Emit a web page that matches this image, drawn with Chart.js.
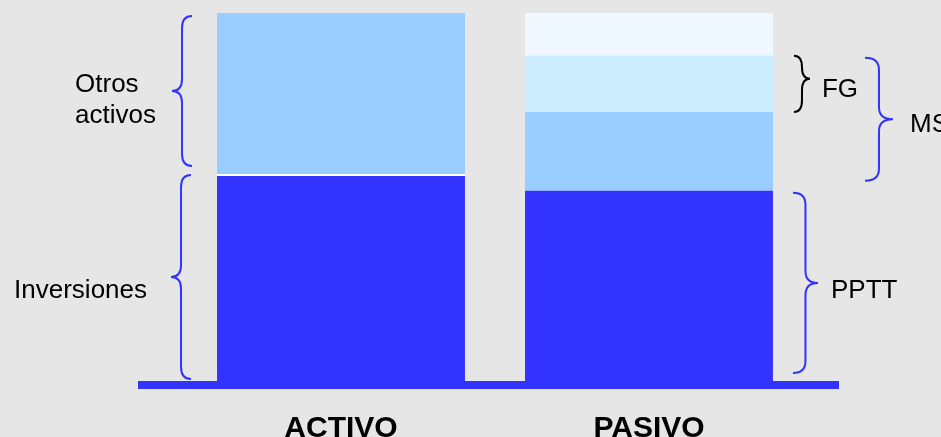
<!DOCTYPE html>
<html>
<head>
<meta charset="utf-8">
<script src="https://cdn.jsdelivr.net/npm/chart.js@4.4.1/dist/chart.umd.min.js"></script>
<style>
  html, body { margin: 0; padding: 0; background: #e6e6e6; }
</style>
</head>
<body>
<canvas id="balanceChart" width="941" height="437"></canvas>
<script>
// Datos del balance (en % del total)
const categorias = ['ACTIVO', 'PASIVO'];
const inversiones = [57.2, null];
const otrosActivos = [42.8, null];
const pptt = [null, 52.7];
const msResto = [null, 21.0];
const fg = [null, 14.9];
const pasivoSuperior = [null, 11.4];

const FUENTE = "'Liberation Sans', Arial, sans-serif";
const AZUL = '#3333ff';

// Fondo gris de la diapositiva
const fondoPlugin = {
    id: 'fondo',
    beforeDraw(chart) {
        const ctx = chart.ctx;
        ctx.save();
        ctx.fillStyle = '#e6e6e6';
        ctx.fillRect(0, 0, chart.width, chart.height);
        ctx.restore();
    }
};

// Línea base gruesa bajo las barras
const basePlugin = {
    id: 'lineaBase',
    afterDatasetsDraw(chart) {
        const ctx = chart.ctx;
        const area = chart.chartArea;
        const y0 = chart.scales.y.getPixelForValue(0);
        ctx.save();
        ctx.fillStyle = AZUL;
        ctx.fillRect(area.left - 49, y0 - 8, area.right - area.left + 85, 8);
        ctx.restore();
    }
};

function llave(ctx, xEnd, xTip, yTop, yBot, yTip, color) {
    const xs = (xEnd + xTip) / 2;
    const r = Math.min(12, (yTip - yTop) / 2, (yBot - yTip) / 2);
    ctx.beginPath();
    ctx.moveTo(xEnd, yTop);
    ctx.quadraticCurveTo(xs, yTop, xs, yTop + r);
    ctx.lineTo(xs, yTip - r);
    ctx.quadraticCurveTo(xs, yTip, xTip, yTip);
    ctx.quadraticCurveTo(xs, yTip, xs, yTip + r);
    ctx.lineTo(xs, yBot - r);
    ctx.quadraticCurveTo(xs, yBot, xEnd, yBot);
    ctx.strokeStyle = color;
    ctx.lineWidth = 2;
    ctx.stroke();
}

// Llaves y rótulos de cada bloque
const llavesPlugin = {
    id: 'llaves',
    afterDraw(chart) {
        const ctx = chart.ctx;
        const ys = chart.scales.y;
        const px = v => ys.getPixelForValue(v);
        const a = chart.getDatasetMeta(0).data[0];
        const p = chart.getDatasetMeta(2).data[1];
        const aL = a.x - a.width / 2;
        const pR = p.x + p.width / 2;

        const cA1 = inversiones[0];
        const cA2 = cA1 + otrosActivos[0];
        const cP1 = pptt[1];
        const cP2 = cP1 + msResto[1];
        const cP3 = cP2 + fg[1];

        const llaves = [
            { xEnd: aL - 25, xTip: aL - 45, yTop: px(cA2) + 3, yBot: px(cA1) - 8, f: 0.5, color: AZUL,
              textos: ['Otros', 'activos'], align: 'left', dx: -97, dy: [1, 32] },
            { xEnd: aL - 26, xTip: aL - 46, yTop: px(cA1) + 1, yBot: px(0) - 10, f: 0.5, color: AZUL,
              textos: ['Inversiones'], align: 'right', dx: -24, dy: [21] },
            { xEnd: pR + 21, xTip: pR + 37, yTop: px(cP3), yBot: px(cP2), f: 0.41, color: '#000',
              textos: ['FG'], align: 'left', dx: 12, dy: [18] },
            { xEnd: pR + 92, xTip: pR + 120, yTop: px(cP3) + 2, yBot: px(cP1) - 10, f: 0.5, color: AZUL,
              textos: ['MS'], align: 'left', dx: 17, dy: [13] },
            { xEnd: pR + 20, xTip: pR + 45, yTop: px(cP1) + 2, yBot: px(0) - 16, f: 0.5, color: AZUL,
              textos: ['PPTT'], align: 'left', dx: 13, dy: [15] }
        ];

        ctx.save();
        ctx.font = '26px ' + FUENTE;
        ctx.fillStyle = '#000';
        ctx.textBaseline = 'alphabetic';
        llaves.forEach(l => {
            const yTip = l.yTop + (l.yBot - l.yTop) * l.f;
            llave(ctx, l.xEnd, l.xTip, l.yTop, l.yBot, yTip, l.color);
            ctx.textAlign = l.align;
            l.textos.forEach((t, i) => ctx.fillText(t, l.xTip + l.dx, yTip + l.dy[i]));
        });
        ctx.restore();
    }
};

const balanceData = {
    labels: categorias,
    datasets: [
        { label: 'Inversiones', data: inversiones, backgroundColor: AZUL,
          borderColor: '#ffffff', borderWidth: { top: 2, left: 0, right: 0, bottom: 0 }, borderSkipped: false },
        { label: 'Otros activos', data: otrosActivos, backgroundColor: '#99ccff' },
        { label: 'PPTT', data: pptt, backgroundColor: AZUL },
        { label: 'MS', data: msResto, backgroundColor: '#99ccff' },
        { label: 'FG', data: fg, backgroundColor: '#cceeff' },
        { label: 'Otros pasivos', data: pasivoSuperior, backgroundColor: '#f0f8ff' }
    ]
};

const balanceConfig = {
    type: 'bar',
    data: balanceData,
    options: {
        responsive: false,
        animation: false,
        barPercentage: 0.805,
        categoryPercentage: 1,
        layout: { padding: { left: 187, right: 138, top: 13, bottom: 0 } },
        plugins: {
            legend: { display: false },
            tooltip: { enabled: false }
        },
        scales: {
            x: {
                stacked: true,
                grid: { display: false, drawTicks: false },
                border: { display: false },
                ticks: { color: '#000', padding: 22, font: { family: FUENTE, size: 30, weight: 'bold' } },
                afterFit(scale) { scale.height = 48; }
            },
            y: { stacked: true, display: false, min: 0, max: 100 }
        }
    },
    plugins: [fondoPlugin, basePlugin, llavesPlugin]
};

const ctx = document.getElementById('balanceChart').getContext('2d');
new Chart(ctx, balanceConfig);
</script>
</body>
</html>
